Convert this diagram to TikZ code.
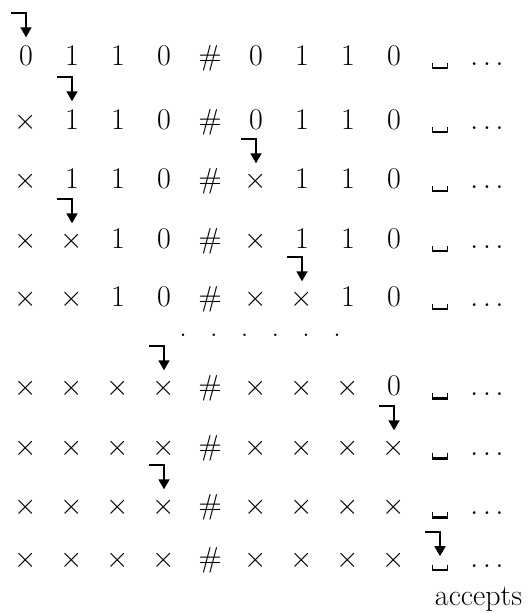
\documentclass[tikz,border=0pt]{standalone}
\usepackage{tikz}
\usetikzlibrary{arrows.meta}
\newcommand{\tmX}{$\times$}
\newcommand{\tmH}{$\#$}
% blank symbol: thick floor, thin sides, dipping under the baseline
\newcommand{\tmB}{\raisebox{-2pt}{\rule{0.5pt}{3.2pt}\rule{7pt}{1.1pt}\rule{0.5pt}{3.2pt}}}
\tikzset{
  tape-cell/.style={inner sep=0pt,anchor=base,font=\fontsize{15}{18}\selectfont},
  head-arrow/.style={-{Triangle[width=5.5pt,length=5pt]},line width=0.9pt},
}

\begin{document}
\begin{tikzpicture}[x=0.5pt,y=-0.5pt]
  \useasboundingbox (0,0) rectangle (529,613);

  % tape snapshots: row / baseline / head cell / contents
  \foreach \r/\y/\h/\cells in {
      1/65.5/0/{0,1,1,0,\tmH,0,1,1,0,\tmB},
      2/129.5/1/{\tmX,1,1,0,\tmH,0,1,1,0,\tmB},
      3/188.5/5/{\tmX,1,1,0,\tmH,\tmX,1,1,0,\tmB},
      4/248.5/1/{\tmX,\tmX,1,0,\tmH,\tmX,1,1,0,\tmB},
      5/306.5/6/{\tmX,\tmX,1,0,\tmH,\tmX,\tmX,1,0,\tmB},
      6/395.5/3/{\tmX,\tmX,\tmX,\tmX,\tmH,\tmX,\tmX,\tmX,0,\tmB},
      7/455.5/8/{\tmX,\tmX,\tmX,\tmX,\tmH,\tmX,\tmX,\tmX,\tmX,\tmB},
      8/514.5/3/{\tmX,\tmX,\tmX,\tmX,\tmH,\tmX,\tmX,\tmX,\tmX,\tmB},
      9/567/9/{\tmX,\tmX,\tmX,\tmX,\tmH,\tmX,\tmX,\tmX,\tmX,\tmB}}{
    \foreach \c [count=\j from 0] in \cells
      \node[tape-cell] (r\r-\j) at ({26+46*\j},\y) {\c};
    \node[tape-cell] (r\r-more) at (487,\y) {$\ldots$};
    \draw[head-arrow] ([shift={(-7.5pt,16pt)}]r\r-\h.north) -| ([yshift=4pt]r\r-\h.north);
  }

  % skipped steps
  \foreach \k in {0,...,5}
    \node[tape-cell] (skip-\k) at ({183+30.8*\k},336.6) {.};

  \node[tape-cell] (accept) at (478.5,605) {accepts};
\end{tikzpicture}
\end{document}
